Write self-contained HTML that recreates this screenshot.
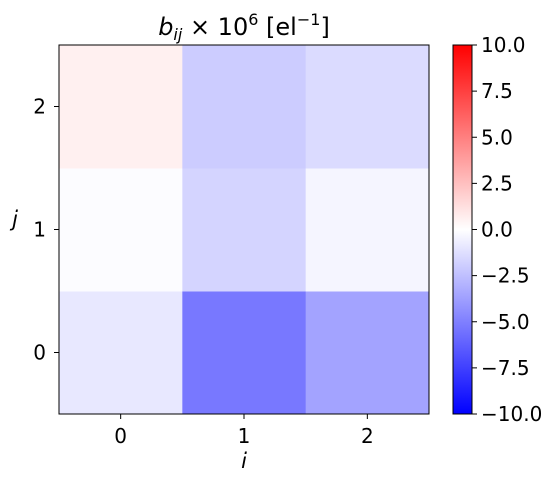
<!DOCTYPE html>
<html><head><meta charset="utf-8"><style>
body{margin:0;background:#fff;font-family:"Liberation Sans","DejaVu Sans",sans-serif}
svg text{font-family:"DejaVu Sans","Liberation Sans",sans-serif;fill:#000}
</style></head><body>
<svg width="555" height="480" xmlns="http://www.w3.org/2000/svg">
<defs><linearGradient id="bwr" x1="0" y1="1" x2="0" y2="0">
<stop offset="0" stop-color="#0000ff"/><stop offset="0.5" stop-color="#ffffff"/><stop offset="1" stop-color="#ff0000"/>
</linearGradient></defs>
<g id="cells"></g>
<rect x="59" y="45" width="370" height="369" fill="none" stroke="#000" stroke-width="1"/>
<g id="axes"></g>
<text x="244" y="35" font-size="24" text-anchor="middle"><tspan font-style="italic">b</tspan><tspan font-style="italic" font-size="16" dy="5">ij</tspan><tspan dy="-5"> × 10</tspan><tspan font-size="16" dy="-10">6</tspan><tspan dy="10">  [el</tspan><tspan font-size="16" dy="-10">−1</tspan><tspan dy="10">]</tspan></text>
<text x="244" y="468" font-size="21" font-style="italic" text-anchor="middle">i</text>
<text x="15" y="226" font-size="21" font-style="italic" text-anchor="middle">j</text>
<rect x="453" y="45" width="19" height="369" fill="url(#bwr)" stroke="#000" stroke-width="1"/>
<g id="cbar"></g>
</svg>
<script>
const iLabels=[0,1,2];
const jLabels=[0,1,2];
const row0=[-0.9,-5.3,-3.6];
const row1=[-0.1,-1.7,-0.4];
const row2=[0.6,-2.0,-1.4];
const cbTicks=[-10,-7.5,-5,-2.5,0,2.5,5,7.5,10];
const vmin=-10,vmax=10;
const ns="http://www.w3.org/2000/svg";
const X0=59,W=370,Y0=45,H=369;
const cw=W/iLabels.length,ch=H/jLabels.length;
function xc(i){return X0+cw*(i+0.5);}
function yc(j){return Y0+H-ch*(j+0.5);}
function cy(v){return Y0+H-(v-vmin)/(vmax-vmin)*H;}
function col(v){let r,g,b;if(v<0){const t=1+v/10;r=g=Math.round(255*t);b=255;}else{const t=1-v/10;r=255;g=b=Math.round(255*t);}return `rgb(${r},${g},${b})`;}
function mk(t,a,p){const e=document.createElementNS(ns,t);for(const k in a)e.setAttribute(k,a[k]);p.appendChild(e);return e;}
const rows=[row0,row1,row2];
const cells=document.getElementById('cells');
rows.forEach((r,j)=>r.forEach((v,i)=>{
 const e=mk('rect',{x:xc(i)-cw/2,y:yc(j)-ch/2,width:cw+0.5,height:ch+0.5,fill:col(v)},cells);
 
 
}));
const ax=document.getElementById('axes');
iLabels.forEach((l,i)=>{
 mk('line',{x1:xc(i),x2:xc(i),y1:414,y2:419,stroke:'#000'},ax);
 const t=mk('text',{x:xc(i),y:443,'font-size':20,'text-anchor':'middle'},ax);t.textContent=l;
 
 
});
jLabels.forEach((l,j)=>{
 mk('line',{x1:54,x2:59,y1:yc(j),y2:yc(j),stroke:'#000'},ax);
 const t=mk('text',{x:46,y:yc(j)+7,'font-size':20,'text-anchor':'end'},ax);t.textContent=l;
 
 
});
const cb=document.getElementById('cbar');
cbTicks.forEach(v=>{
 mk('line',{x1:472,x2:477,y1:cy(v),y2:cy(v),stroke:'#000'},cb);
 const t=mk('text',{x:481,y:cy(v)+7,'font-size':20},cb);
 t.textContent=(v<0?'−':'')+Math.abs(v).toFixed(1);
 
 
});
</script>
</body></html>
